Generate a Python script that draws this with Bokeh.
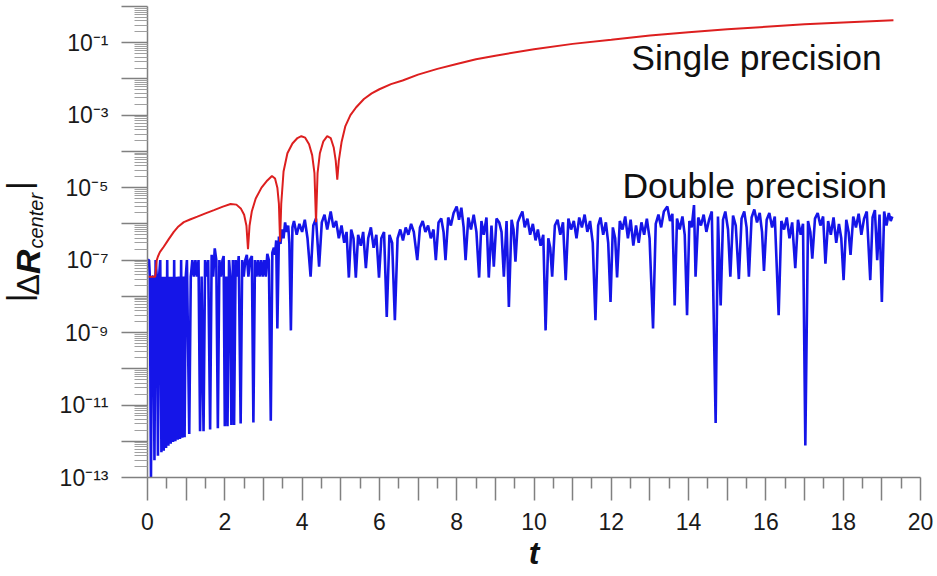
import math
from bokeh.plotting import figure
from bokeh.layouts import row
from bokeh.models import (Range1d, FixedTicker, CustomJSTickFormatter, Label)
from bokeh.embed import file_html
from bokeh.resources import INLINE

# ---------------- data ----------------
red_t = [0.03, 0.20, 0.24, 0.27, 0.32, 0.42, 0.55, 0.68, 0.80, 0.94, 1.10, 1.29, 1.50,
         1.72, 1.95, 2.15, 2.30, 2.42, 2.50, 2.56, 2.60, 2.64, 2.70, 2.80, 2.95, 3.10,
         3.22, 3.30, 3.36, 3.40, 3.43, 3.46, 3.52, 3.62, 3.75, 3.88, 3.98, 4.08, 4.18,
         4.26, 4.32, 4.36, 4.40, 4.46, 4.55, 4.65, 4.74, 4.82, 4.87, 4.91, 4.95, 5.02,
         5.12, 5.25, 5.40, 5.60, 5.80, 6.00, 6.30, 6.60, 7.00, 7.50, 8.00, 8.50, 9.00,
         10.0, 11.0, 12.0, 13.0, 14.0, 15.0, 16.0, 17.0, 18.0, 19.3]
red_v = [3.5e-8, 3.5e-8, 1.0e-7, 1.26e-7, 1.66e-7, 2.34e-7, 3.8e-7, 6.0e-7, 8.5e-7,
         1.12e-6, 1.32e-6, 1.58e-6, 1.95e-6, 2.4e-6, 3.0e-6, 3.55e-6, 3.4e-6, 2.6e-6,
         1.78e-6, 8.9e-7, 2.0e-7, 8.9e-7, 2.24e-6, 5.0e-6, 1.0e-5, 1.58e-5, 2.1e-5,
         1.78e-5, 1.0e-5, 3.55e-6, 3.2e-7, 3.55e-6, 2.8e-5, 8.9e-5, 1.66e-4, 2.34e-4,
         2.63e-4, 2.4e-4, 1.58e-4, 7.9e-5, 2.5e-5, 1.12e-6, 2.5e-5, 8.9e-5, 1.9e-4,
         2.63e-4, 2.34e-4, 1.26e-4, 5.6e-5, 1.66e-5, 5.6e-5, 1.78e-4, 5.0e-4, 1.0e-3,
         1.66e-3, 2.8e-3, 4.0e-3, 5.2e-3, 7.2e-3, 9.1e-3, 1.32e-2, 1.9e-2, 2.6e-2,
         3.5e-2, 4.4e-2, 6.6e-2, 9.3e-2, 0.12, 0.158, 0.195, 0.234, 0.275, 0.324,
         0.363, 0.417]

blue_t = [0.00, 0.04, 0.06, 0.09, 0.12, 0.15, 0.18, 0.21, 0.24, 0.27, 0.30, 0.33, 0.36,
          0.39, 0.42, 0.45, 0.48, 0.51, 0.54, 0.57, 0.60, 0.63, 0.66, 0.69, 0.72, 0.75,
          0.78, 0.81, 0.84, 0.87, 0.90, 0.93, 0.96, 0.99, 1.02,
          1.08, 1.12, 1.16, 1.20, 1.24, 1.28, 1.32, 1.36, 1.40, 1.45, 1.49, 1.53, 1.57,
          1.62, 1.66, 1.70, 1.74, 1.78, 1.82, 1.86, 1.90, 1.94, 1.97, 2.00, 2.04, 2.07,
          2.11, 2.14, 2.17, 2.21, 2.24, 2.28, 2.32, 2.36, 2.41, 2.45, 2.49, 2.53, 2.57,
          2.61, 2.65, 2.70, 2.74, 2.78, 2.82, 2.86, 2.90, 2.94, 2.98, 3.02, 3.06, 3.10,
          3.14, 3.19, 3.23, 3.27, 3.30, 3.33, 3.36, 3.40, 3.44, 3.48, 3.52, 3.56, 3.60,
          3.64, 3.67, 3.71, 3.75,
          3.79, 3.86, 3.93, 4.00, 4.07, 4.14, 4.22, 4.29, 4.36, 4.44, 4.51, 4.58, 4.65,
          4.74, 4.81, 4.88, 4.95, 5.02, 5.09, 5.15, 5.21, 5.27, 5.33, 5.39, 5.45, 5.52,
          5.58, 5.65, 5.71, 5.78, 5.85, 5.92, 5.99, 6.05, 6.12, 6.19, 6.26, 6.33, 6.40,
          6.47, 6.54, 6.61, 6.68, 6.75, 6.82, 6.89, 6.98, 7.05, 7.12, 7.19, 7.26, 7.33,
          7.40, 7.46, 7.53, 7.60, 7.66, 7.71, 7.78, 7.85, 7.92, 8.00, 8.06, 8.12, 8.18,
          8.23, 8.30, 8.37, 8.44, 8.51, 8.58, 8.64, 8.70, 8.77, 8.83, 8.90, 8.96, 9.03,
          9.10, 9.16, 9.22, 9.29, 9.35, 9.42, 9.47, 9.52, 9.58, 9.64, 9.70, 9.76, 9.83,
          9.90, 9.97, 10.04, 10.10, 10.17, 10.24, 10.30, 10.37, 10.42, 10.47, 10.54,
          10.61, 10.68, 10.75, 10.82, 10.89, 10.96, 11.03, 11.10, 11.17, 11.24, 11.31,
          11.38, 11.45, 11.52, 11.59, 11.66, 11.72, 11.79, 11.86, 11.92, 11.98, 12.04,
          12.10, 12.15, 12.22, 12.29, 12.36, 12.43, 12.50, 12.57, 12.64, 12.71, 12.78,
          12.85, 12.92, 12.99, 13.08, 13.15, 13.22, 13.29, 13.36, 13.45, 13.52, 13.58,
          13.64, 13.70, 13.77, 13.84, 13.90, 13.96, 14.02, 14.08, 14.14, 14.18, 14.25,
          14.32, 14.39, 14.46, 14.53, 14.60, 14.70, 14.76, 14.83, 14.89, 14.95, 15.02,
          15.08, 15.15, 15.22, 15.30, 15.37, 15.44, 15.50, 15.56, 15.63, 15.70, 15.77,
          15.84, 15.90, 15.95, 16.02, 16.09, 16.16, 16.23, 16.33, 16.40, 16.47, 16.54,
          16.61, 16.68, 16.76, 16.83, 16.90, 16.96, 17.02, 17.09, 17.15, 17.20, 17.27,
          17.34, 17.41, 17.48, 17.54, 17.61, 17.68, 17.75, 17.82, 17.89, 17.95, 18.01,
          18.08, 18.14, 18.19, 18.26, 18.33, 18.40, 18.47, 18.54, 18.61, 18.70, 18.76,
          18.82, 18.88, 18.94, 19.00, 19.06, 19.12, 19.18, 19.23, 19.27]
blue_v = [1e-7, 1e-7, 3.5e-8, 1.0e-13, 3.5e-8, 3.5e-8, 3.0e-13, 1e-7, 3.5e-8, 4.0e-13,
          3.5e-8, 1e-7, 5.0e-13, 3.5e-8, 5.5e-13, 3.5e-8, 6.5e-13, 1e-7, 7.5e-13, 3.5e-8,
          8.5e-13, 3.5e-8, 9.5e-13, 1e-7, 1.0e-12, 3.5e-8, 1.1e-12, 3.5e-8, 1.15e-12,
          1e-7, 1.25e-12, 3.5e-8, 1.3e-12, 3.5e-8, 1e-7,
          1.6e-12, 3.5e-8, 1e-7, 3.5e-8, 1e-7, 3.5e-8, 1e-7, 1.9e-12, 3.5e-8, 1.9e-12,
          1e-7, 3.5e-8, 1e-7, 2.1e-12, 1.4e-7, 3.5e-8, 2.1e-7, 1e-7, 2.3e-12, 1e-7,
          3.5e-8, 1e-7, 1.3e-7, 2.6e-12, 3.5e-8, 2.6e-12, 1e-7, 3.5e-8, 2.8e-12, 1e-7,
          2.8e-12, 1e-7, 3.5e-8, 1.3e-7, 3.1e-12, 1e-7, 3.5e-8, 1e-7, 1.4e-7, 3.5e-8,
          1e-7, 1.3e-7, 3.3e-12, 1e-7, 3.5e-8, 1e-7, 3.5e-8, 1e-7, 3.5e-8, 1e-7, 3.5e-8,
          1.5e-7, 1e-7, 3.7e-12, 1.6e-7, 2.2e-7, 1.4e-7, 3.5e-7, 1.3e-9, 4.5e-7, 2.8e-7,
          7e-7, 4e-7, 1.1e-6, 6e-7, 9e-7, 3e-7, 1.15e-9, 8e-7,
          1.2e-6, 5e-7, 1.0e-6, 6e-7, 1.3e-6, 4e-7, 3.5e-8, 9e-7, 1.4e-6, 6.6e-8, 1.1e-6,
          1.8e-6, 7e-7, 2.2e-6, 8e-7, 1.2e-6, 4e-7, 9e-7, 3e-7, 6e-7, 3.3e-8, 7e-7, 4e-7,
          3.3e-8, 5e-7, 2.5e-7, 6e-7, 6e-8, 4e-7, 8e-7, 2.2e-7, 5e-7, 3.3e-8, 4e-7, 6e-7,
          2.7e-9, 5e-7, 3e-7, 2.2e-9, 4e-7, 7e-7, 3.5e-7, 8e-7, 5e-7, 1.0e-6, 6e-7, 1e-7,
          8e-7, 1.2e-6, 6e-7, 9e-7, 4e-7, 7e-7, 1e-7, 1.1e-6, 1.4e-6, 6e-7, 1e-7, 1.5e-6,
          9e-7, 2.0e-6, 3.0e-6, 1.3e-6, 2.8e-6, 8e-7, 1e-7, 1.5e-6, 7e-7, 1.8e-6, 6e-7,
          3.3e-8, 1.2e-6, 5e-7, 1.5e-6, 3.3e-8, 9e-7, 6.6e-8, 1.4e-6, 1.1e-6, 6e-7,
          3.5e-8, 1.2e-6, 5.1e-9, 1.3e-6, 7e-7, 9e-8, 1.1e-6, 1.6e-6, 2.2e-6, 8e-7,
          1.4e-6, 5e-7, 1.0e-6, 3.5e-7, 7e-7, 2.5e-7, 5e-7, 1.15e-9, 4e-7, 2.2e-7, 3.5e-8,
          9e-7, 1.3e-6, 5e-7, 1.1e-6, 2.8e-8, 1.4e-6, 7e-7, 1.2e-6, 4e-7, 1.5e-6, 8e-7,
          1.8e-6, 6e-7, 1.2e-6, 3e-7, 2.2e-9, 9e-7, 1.5e-6, 5e-7, 1.1e-6, 3e-7, 7e-9,
          8e-7, 4e-7, 3.3e-8, 1.2e-6, 7e-7, 1.6e-6, 4e-7, 1.3e-6, 2.5e-7, 9e-7, 3e-7,
          1.1e-6, 5e-7, 1.4e-6, 4e-7, 1.3e-9, 1.0e-6, 1.8e-6, 8e-7, 2.2e-6, 3.0e-6,
          1.2e-6, 1.9e-6, 5.6e-9, 1.4e-6, 7e-7, 1.6e-6, 5e-7, 3e-9, 1.2e-6, 8e-7, 3.3e-6,
          3.5e-8, 1.5e-6, 9e-7, 1.8e-6, 6e-7, 1.3e-6, 2.2e-6, 3.2e-12, 1.6e-6, 5.6e-9,
          1.3e-6, 2.2e-6, 7e-7, 3.5e-8, 1.7e-6, 9e-7, 3e-8, 1.4e-6, 2.2e-6, 8e-7, 3.5e-8,
          1.5e-6, 2.5e-6, 1.1e-6, 2.0e-6, 6e-7, 5e-8, 1.3e-6, 2.0e-6, 8e-7, 1.6e-6, 3e-9,
          1.2e-6, 7e-7, 1.5e-6, 4e-7, 1.1e-6, 6e-8, 1.3e-6, 5e-7, 1.0e-6, 7.6e-13, 1.2e-6,
          6e-7, 1.1e-7, 1.4e-6, 2.0e-6, 9e-7, 1.6e-6, 8e-8, 1.2e-6, 5e-7, 1.5e-6, 3e-7,
          1.0e-6, 4e-7, 2.8e-8, 1.3e-6, 6e-7, 1.4e-7, 1.6e-6, 8e-7, 1.9e-6, 5e-7, 1.4e-6,
          2.2e-6, 2.8e-8, 1.5e-6, 2.4e-6, 1e-7, 1.8e-6, 7e-9, 2.2e-6, 9e-7, 2.0e-6,
          1.2e-6, 1.6e-6]

x_ticks = list(range(0, 21))
x_tick_labels = [str(v) if v % 2 == 0 else "" for v in x_ticks]
x_minor = [v + 0.5 for v in range(0, 20)]

y_exps = list(range(-13, 1))
y_ticks = [10.0 ** e for e in y_exps]
y_tick_labels = ["10⁻¹³", "", "10⁻¹¹", "", "10⁻⁹", "", "10⁻⁷", "", "10⁻⁵", "",
                 "10⁻³", "", "10⁻¹", ""]
y_minor = [m * 10.0 ** e for e in range(-13, 0) for m in range(2, 10)]

FONT = "Liberation Sans"
GRAY = "#808080"
TXT = "#111111"
LEFT_W = 50

# ---------------- main figure ----------------
p = figure(width=937 - LEFT_W, height=576, output_backend="svg", toolbar_location=None,
           x_range=Range1d(0, 20), y_range=Range1d(1e-13, 1.0), y_axis_type="log",
           min_border_left=147 - LEFT_W, min_border_right=17, min_border_top=6,
           min_border_bottom=99)
p.outline_line_color = None
p.xgrid.visible = False
p.ygrid.visible = False

p.line(blue_t, blue_v, line_color="#1515e8", line_width=2.6)
p.line(red_t, red_v, line_color="#dd1f1f", line_width=2.0)

# x axis
xa = p.xaxis[0]
xa.ticker = FixedTicker(ticks=x_ticks, minor_ticks=x_minor)
xa.formatter = CustomJSTickFormatter(args=dict(vals=x_ticks, labs=x_tick_labels),
    code="const i = vals.indexOf(Math.round(tick)); return i >= 0 ? labs[i] : '';")
xa.axis_line_color = GRAY
xa.axis_line_width = 1.5
xa.major_tick_in = 0
xa.major_tick_out = 23
xa.minor_tick_in = 0
xa.minor_tick_out = 11
xa.major_tick_line_color = GRAY
xa.minor_tick_line_color = GRAY
xa.major_tick_line_width = 1.5
xa.minor_tick_line_width = 1.5
xa.major_label_text_font = FONT
xa.major_label_text_font_size = "23px"
xa.major_label_text_color = "#1a1a1a"
xa.major_label_standoff = 12
xa.axis_label = "t"
xa.axis_label_text_font = FONT
xa.axis_label_text_font_size = "32px"
xa.axis_label_text_font_style = "bold italic"
xa.axis_label_text_color = TXT
xa.axis_label_standoff = 2

# y axis
ya = p.yaxis[0]
ya.ticker = FixedTicker(ticks=y_ticks, minor_ticks=y_minor)
ya.formatter = CustomJSTickFormatter(args=dict(exps=y_exps, labs=y_tick_labels),
    code="const e = Math.round(Math.log10(tick)); const i = exps.indexOf(e); return i >= 0 ? labs[i] : '';")
ya.axis_line_color = GRAY
ya.axis_line_width = 1.5
ya.major_tick_in = 0
ya.major_tick_out = 26
ya.minor_tick_in = 0
ya.minor_tick_out = 13
ya.major_tick_line_color = GRAY
ya.minor_tick_line_color = "#a0a0a0"
ya.major_tick_line_width = 1.5
ya.minor_tick_line_width = 1
ya.major_label_text_font = FONT
ya.major_label_text_font_size = "23px"
ya.major_label_text_color = "#1a1a1a"
ya.major_label_standoff = 13

# series names
p.add_layout(Label(x=19.0, y=3.8e-2, text="Single precision", text_align="right",
                   text_baseline="middle", text_font=FONT, text_font_size="35.5px",
                   text_color=TXT))
p.add_layout(Label(x=19.13, y=1.14e-5, text="Double precision", text_align="right",
                   text_baseline="middle", text_font=FONT, text_font_size="35.5px",
                   text_color=TXT))

# ---------------- left strip holding the rotated y title ----------------
# its frame is aligned with the main frame (page y 6..477); y data = 576 - page y
q = figure(width=LEFT_W, height=576, output_backend="svg", toolbar_location=None,
           x_range=Range1d(0, LEFT_W), y_range=Range1d(99, 570),
           x_axis_location=None, y_axis_location=None,
           min_border_left=0, min_border_right=0, min_border_top=0, min_border_bottom=0)
q.outline_line_color = None
q.xgrid.visible = False
q.ygrid.visible = False

ang = math.pi / 2
for txt, x, y, size, style in [("|", 17, 274.3, "34px", "normal"),
                               ("Δ", 27.9, 281, "32px", "normal"),
                               ("R", 27.2, 302.5, "34px", "bold italic"),
                               ("center", 35.1, 328, "20px", "italic"),
                               ("|", 17, 386.5, "34px", "normal")]:
    q.add_layout(Label(x=x, y=y, text=txt, angle=ang, text_align="left",
                       text_baseline="middle", text_font=FONT, text_font_size=size,
                       text_font_style=style, text_color=TXT))

open("out.html", "w").write(file_html(row(q, p), INLINE))
